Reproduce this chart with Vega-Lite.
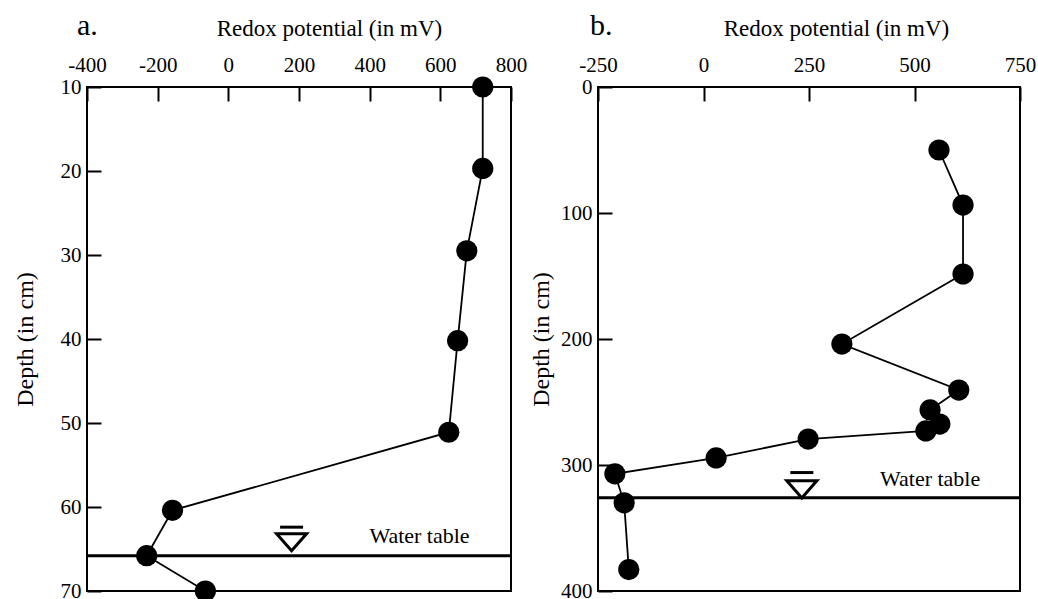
{
  "$schema": "https://vega.github.io/schema/vega-lite/v6.json",
  "background": "white",
  "padding": {"left": 12, "top": 10, "right": 5, "bottom": 5},
  "bounds": "flush",
  "spacing": 87,
  "config": {
    "view": {"stroke": "black", "strokeWidth": 2},
    "font": "Liberation Serif",
    "axis": {
      "labelFont": "Liberation Serif",
      "titleFont": "Liberation Serif",
      "labelFontSize": 21,
      "titleFontSize": 23,
      "titleFontWeight": "normal",
      "labelColor": "black",
      "titleColor": "black",
      "tickColor": "black",
      "tickWidth": 2,
      "tickSize": -14,
      "grid": false,
      "domain": false,
      "labelFlush": false,
      "labelExpr": "'' + datum.value"
    },
    "title": {"font": "Liberation Serif", "fontSize": 30, "fontWeight": "normal", "color": "black"}
  },
  "datasets": {
    "a_profile": [
      {"redox": 720, "depth": 10},
      {"redox": 720, "depth": 19.7},
      {"redox": 675, "depth": 29.5},
      {"redox": 649, "depth": 40.2},
      {"redox": 624, "depth": 51.1},
      {"redox": -158, "depth": 60.4},
      {"redox": -231, "depth": 65.8},
      {"redox": -65, "depth": 70}
    ],
    "b_profile": [
      {"redox": 558, "depth": 50},
      {"redox": 615, "depth": 93.7},
      {"redox": 615, "depth": 148.4},
      {"redox": 328, "depth": 204},
      {"redox": 605, "depth": 240.5},
      {"redox": 537, "depth": 256.3},
      {"redox": 560, "depth": 267.5},
      {"redox": 527, "depth": 273},
      {"redox": 248, "depth": 279.4},
      {"redox": 30, "depth": 294.4},
      {"redox": -210, "depth": 307},
      {"redox": -188, "depth": 330},
      {"redox": -177, "depth": 383}
    ],
    "a_water": [
      {"depth": 65.8, "marker_x": 179, "marker_depth": 64.2, "bar_depth": 62.4, "label_x": 541, "label_depth": 64.3, "label": "Water table"}
    ],
    "b_water": [
      {"depth": 326, "marker_x": 233, "marker_depth": 319.3, "bar_depth": 306, "label_x": 537, "label_depth": 317, "label": "Water table"}
    ]
  },
  "hconcat": [
    {
      "width": 424,
      "height": 504,
      "title": {"text": "a.", "anchor": "start", "frame": "group", "dx": -10, "dy": 28},
      "layer": [
        {
          "data": {"name": "a_profile"},
          "mark": {"type": "line", "color": "black", "strokeWidth": 1.8},
          "encoding": {
            "x": {"field": "redox", "type": "quantitative", "scale": {"domain": [-400, 800], "nice": false, "zero": false},
                  "axis": {"orient": "top", "values": [-400, -200, 0, 200, 400, 600, 800], "title": "Redox potential (in mV)", "titleX": 242, "titleY": -52, "titleBaseline": "alphabetic", "labelPadding": 26}},
            "y": {"field": "depth", "type": "quantitative", "scale": {"domain": [10, 70], "reverse": true, "nice": false, "zero": false},
                  "axis": {"values": [10, 20, 30, 40, 50, 60, 70], "title": "Depth (in cm)", "titleFontSize": 24, "titleX": -62, "titleY": 252, "titleBaseline": "middle", "titleAlign": "center", "labelPadding": 20}},
            "order": {"field": "depth", "type": "quantitative"}
          }
        },
        {
          "data": {"name": "a_profile"},
          "mark": {"type": "circle", "color": "black", "opacity": 1, "size": 450},
          "encoding": {
            "x": {"field": "redox", "type": "quantitative"},
            "y": {"field": "depth", "type": "quantitative"}
          }
        },
        {
          "data": {"name": "a_water"},
          "mark": {"type": "rule", "color": "black", "strokeWidth": 3},
          "encoding": {"y": {"field": "depth", "type": "quantitative"}}
        },
        {
          "data": {"name": "a_water"},
          "mark": {"type": "point", "shape": "M-1,-0.57L1,-0.57L0,0.57Z", "filled": false, "stroke": "black", "strokeWidth": 3, "size": 900, "opacity": 1},
          "encoding": {
            "x": {"field": "marker_x", "type": "quantitative"},
            "y": {"field": "marker_depth", "type": "quantitative"}
          }
        },
        {
          "data": {"name": "a_water"},
          "mark": {"type": "point", "shape": "M-1,0L1,0", "filled": false, "stroke": "black", "strokeWidth": 3, "size": 529, "opacity": 1},
          "encoding": {
            "x": {"field": "marker_x", "type": "quantitative"},
            "y": {"field": "bar_depth", "type": "quantitative"}
          }
        },
        {
          "data": {"name": "a_water"},
          "mark": {"type": "text", "font": "Liberation Serif", "fontSize": 22, "color": "black", "baseline": "alphabetic", "align": "center"},
          "encoding": {
            "x": {"field": "label_x", "type": "quantitative"},
            "y": {"field": "label_depth", "type": "quantitative"},
            "text": {"field": "label"}
          }
        }
      ]
    },
    {
      "width": 422,
      "height": 504,
      "title": {"text": "b.", "anchor": "start", "frame": "group", "dx": -8, "dy": 28},
      "layer": [
        {
          "data": {"name": "b_profile"},
          "mark": {"type": "line", "color": "black", "strokeWidth": 1.8},
          "encoding": {
            "x": {"field": "redox", "type": "quantitative", "scale": {"domain": [-250, 750], "nice": false, "zero": false},
                  "axis": {"orient": "top", "values": [-250, 0, 250, 500, 750], "title": "Redox potential (in mV)", "titleX": 238, "titleY": -52, "titleBaseline": "alphabetic", "labelPadding": 26}},
            "y": {"field": "depth", "type": "quantitative", "scale": {"domain": [0, 400], "reverse": true, "nice": false, "zero": false},
                  "axis": {"values": [0, 100, 200, 300, 400], "title": "Depth (in cm)", "titleFontSize": 24, "titleX": -57, "titleY": 252, "titleBaseline": "middle", "titleAlign": "center", "labelPadding": 20}},
            "order": {"field": "depth", "type": "quantitative"}
          }
        },
        {
          "data": {"name": "b_profile"},
          "mark": {"type": "circle", "color": "black", "opacity": 1, "size": 450},
          "encoding": {
            "x": {"field": "redox", "type": "quantitative"},
            "y": {"field": "depth", "type": "quantitative"}
          }
        },
        {
          "data": {"name": "b_water"},
          "mark": {"type": "rule", "color": "black", "strokeWidth": 3},
          "encoding": {"y": {"field": "depth", "type": "quantitative"}}
        },
        {
          "data": {"name": "b_water"},
          "mark": {"type": "point", "shape": "M-1,-0.57L1,-0.57L0,0.57Z", "filled": false, "stroke": "black", "strokeWidth": 3, "size": 900, "opacity": 1},
          "encoding": {
            "x": {"field": "marker_x", "type": "quantitative"},
            "y": {"field": "marker_depth", "type": "quantitative"}
          }
        },
        {
          "data": {"name": "b_water"},
          "mark": {"type": "point", "shape": "M-1,0L1,0", "filled": false, "stroke": "black", "strokeWidth": 3, "size": 529, "opacity": 1},
          "encoding": {
            "x": {"field": "marker_x", "type": "quantitative"},
            "y": {"field": "bar_depth", "type": "quantitative"}
          }
        },
        {
          "data": {"name": "b_water"},
          "mark": {"type": "text", "font": "Liberation Serif", "fontSize": 22, "color": "black", "baseline": "alphabetic", "align": "center"},
          "encoding": {
            "x": {"field": "label_x", "type": "quantitative"},
            "y": {"field": "label_depth", "type": "quantitative"},
            "text": {"field": "label"}
          }
        }
      ]
    }
  ]
}
